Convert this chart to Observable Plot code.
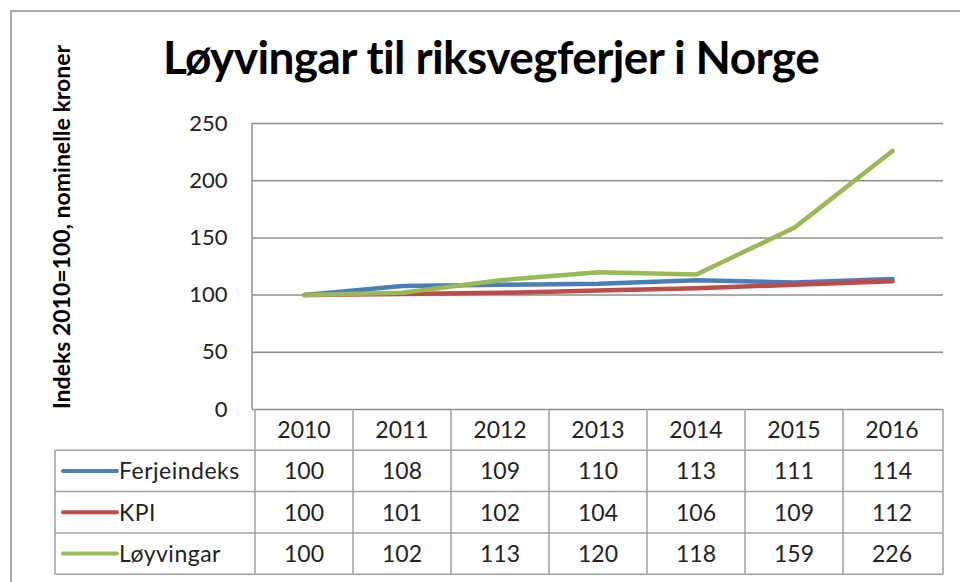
<!DOCTYPE html>
<html>
<head>
<meta charset="utf-8">
<script src="https://cdn.jsdelivr.net/npm/d3@7"></script>
<script src="https://cdn.jsdelivr.net/npm/@observablehq/plot@0.6"></script>
<style>
  body { margin: 0; background: #fff; }
  #wrap { position: relative; width: 960px; height: 582px; overflow: hidden; font-family: Lato, "Open Sans", sans-serif; }
  #frame { position: absolute; left: 10px; top: 10px; width: 1100px; height: 1100px; border: 2px solid #a8a8a8; box-sizing: border-box; pointer-events: none; }
  #title { position: absolute; left: 163px; top: 29px; font-weight: bold; font-size: 46px; color: #000; white-space: nowrap; letter-spacing: -0.6px; }
  #ylabel { position: absolute; left: 61px; top: 227px; transform: translate(-50%, -50%) rotate(-90deg); font-weight: bold; font-size: 23px; color: #000; white-space: nowrap; }
  #chart { position: absolute; left: 0; top: 0; }
</style>
</head>
<body>
<div id="wrap">
  <div id="chart"></div>
  <div id="frame"></div>
  <div id="title">Løyvingar til riksvegferjer i Norge</div>
  <div id="ylabel">Indeks 2010=100, nominelle kroner</div>
</div>
<script>
const years = ["2010", "2011", "2012", "2013", "2014", "2015", "2016"];
const seriesNames = ["Ferjeindeks", "KPI", "Løyvingar"];
const ferjeindeks = [100, 108, 109, 110, 113, 111, 114];
const kpi = [100, 101, 102, 104, 106, 109, 112];
const loyvingar = [100, 102, 113, 120, 118, 159, 226];
const seriesColors = ["#4A7EBB", "#BE4B48", "#98B954"];
const yTicks = [0, 50, 100, 150, 200, 250];

const seriesValues = [ferjeindeks, kpi, loyvingar];
const rows = seriesNames.flatMap((s, i) => years.map((y, j) => ({series: s, year: y, value: seriesValues[i][j]})));

const gridColor = "#8e8e8e";
const tableColor = "#a0a0a0";

function dataTable(index, scales, values, dim) {
  const x = scales.x;
  const step = x(years[1]) - x(years[0]);
  const left = dim.marginLeft;
  const right = dim.width - dim.marginRight;
  const top = dim.height - dim.marginBottom;
  const rowH = 41.3;
  const legendLeft = 55;
  const g = d3.create("svg:g").attr("font-family", "Lato, 'Open Sans', sans-serif").attr("font-size", 23).attr("fill", "#222");
  // left axis line of plot area
  g.append("line").attr("x1", left).attr("x2", left).attr("y1", scales.y(yTicks[yTicks.length - 1])).attr("y2", top)
    .attr("stroke", gridColor).attr("stroke-width", 1.5);
  // horizontal lines
  for (let r = 1; r <= 4; r++) {
    const yy = top + r * rowH;
    g.append("line").attr("x1", legendLeft).attr("x2", right).attr("y1", yy).attr("y2", yy)
      .attr("stroke", tableColor).attr("stroke-width", 1.5);
  }
  // vertical lines
  years.forEach((yr) => {
    const xx = x(yr) - step / 2;
    g.append("line").attr("x1", xx).attr("x2", xx).attr("y1", top).attr("y2", top + 4 * rowH)
      .attr("stroke", tableColor).attr("stroke-width", 1.5);
  });
  g.append("line").attr("x1", right).attr("x2", right).attr("y1", top).attr("y2", top + 4 * rowH)
    .attr("stroke", tableColor).attr("stroke-width", 1.5);
  g.append("line").attr("x1", legendLeft).attr("x2", legendLeft).attr("y1", top + rowH).attr("y2", top + 4 * rowH)
    .attr("stroke", tableColor).attr("stroke-width", 1.5);
  // header
  years.forEach(yr => {
    g.append("text").attr("x", x(yr)).attr("y", top + rowH / 2).attr("text-anchor", "middle").attr("dy", "0.36em").text(yr);
  });
  // rows
  seriesNames.forEach((s, i) => {
    const cy = top + rowH * (i + 1.5);
    g.append("line").attr("x1", legendLeft + 8).attr("x2", legendLeft + 62).attr("y1", cy).attr("y2", cy)
      .attr("stroke", scales.color(s)).attr("stroke-width", 4).attr("stroke-linecap", "round");
    g.append("text").attr("x", legendLeft + 64).attr("y", cy).attr("dy", "0.36em").attr("text-anchor", "start")
      .attr("letter-spacing", "0.5px").text(s);
    years.forEach((yr, j) => {
      g.append("text").attr("x", x(yr)).attr("y", cy).attr("text-anchor", "middle").attr("dy", "0.36em").text(seriesValues[i][j]);
    });
  });
  return g.node();
}

const chart = Plot.plot({
  width: 960,
  height: 582,
  marginLeft: 252,
  marginRight: 17,
  marginTop: 123,
  marginBottom: 173,
  style: {fontFamily: "Lato, 'Open Sans', sans-serif", fontSize: "22px", color: "#222", background: "transparent", overflow: "visible"},
  x: {type: "point", domain: years, padding: 0.5, axis: null},
  y: {domain: [0, 250], axis: null},
  color: {domain: seriesNames, range: seriesColors},
  marks: [
    Plot.gridY(yTicks, {stroke: gridColor, strokeOpacity: 1, strokeWidth: 1.5}),
    Plot.axisY(yTicks, {tickSize: 0, tickPadding: 25, fontSize: 22, label: null, fill: "#222"}),
    Plot.lineY(rows, {x: "year", y: "value", z: "series", stroke: "series", strokeWidth: 4.5, strokeLinecap: "round", strokeLinejoin: "round"}),
    dataTable
  ]
});
document.getElementById("chart").appendChild(chart);
</script>
</body>
</html>
